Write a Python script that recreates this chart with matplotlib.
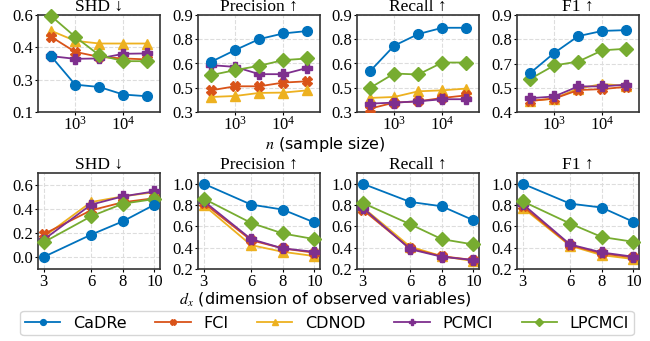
import matplotlib
matplotlib.use("Agg")
import matplotlib.pyplot as plt
from matplotlib.ticker import FixedLocator, NullLocator

plt.rcParams["font.family"] = ["Liberation Serif", "DejaVu Serif"]
plt.rcParams["mathtext.fontset"] = "stix"

METHODS = ["CaDRe", "FCI", "CDNOD", "PCMCI", "LPCMCI"]
STYLE = {
    "CaDRe":  {"color": "#0072BD", "marker": "o"},
    "FCI":    {"color": "#D95319", "marker": "X"},
    "CDNOD":  {"color": "#EDB120", "marker": "^"},
    "PCMCI":  {"color": "#7E2F8E", "marker": "P"},
    "LPCMCI": {"color": "#77AC30", "marker": "D"},
}
ZORDER = {"CDNOD": 2, "FCI": 3, "PCMCI": 4, "LPCMCI": 5, "CaDRe": 6}

# top row: sample size sweep
n_values = [316, 1000, 3162, 10000, 31623]
top_shd = {
    "CaDRe":  [0.388, 0.241, 0.229, 0.190, 0.181],
    "FCI":    [0.488, 0.410, 0.384, 0.376, 0.371],
    "CDNOD":  [0.519, 0.467, 0.453, 0.453, 0.453],
    "PCMCI":  [0.388, 0.374, 0.376, 0.400, 0.402],
    "LPCMCI": [0.595, 0.488, 0.393, 0.362, 0.362],
}
top_precision = {
    "CaDRe":  [0.610, 0.683, 0.751, 0.786, 0.801],
    "FCI":    [0.434, 0.459, 0.459, 0.482, 0.490],
    "CDNOD":  [0.393, 0.399, 0.418, 0.420, 0.434],
    "PCMCI":  [0.590, 0.579, 0.534, 0.534, 0.573],
    "LPCMCI": [0.528, 0.559, 0.586, 0.621, 0.631],
}
top_recall = {
    "CaDRe":  [0.552, 0.710, 0.782, 0.821, 0.821],
    "FCI":    [0.321, 0.358, 0.366, 0.387, 0.403],
    "CDNOD":  [0.387, 0.393, 0.428, 0.434, 0.445],
    "PCMCI":  [0.352, 0.358, 0.366, 0.379, 0.379],
    "LPCMCI": [0.449, 0.538, 0.532, 0.606, 0.606],
}
top_f1 = {
    "CaDRe":  [0.600, 0.704, 0.791, 0.818, 0.822],
    "FCI":    [0.457, 0.469, 0.513, 0.518, 0.530],
    "CDNOD":  [0.457, 0.469, 0.521, 0.544, 0.535],
    "PCMCI":  [0.471, 0.480, 0.532, 0.532, 0.541],
    "LPCMCI": [0.570, 0.640, 0.660, 0.718, 0.726],
}

# bottom row: dimension sweep
dx_values = [3, 6, 8, 10]
bot_shd = {
    "CaDRe":  [0.000, 0.186, 0.297, 0.436],
    "FCI":    [0.190, 0.389, 0.456, 0.490],
    "CDNOD":  [0.167, 0.458, 0.505, 0.540],
    "PCMCI":  [0.144, 0.436, 0.505, 0.547],
    "LPCMCI": [0.122, 0.339, 0.444, 0.483],
}
bot_precision = {
    "CaDRe":  [1.000, 0.804, 0.757, 0.636],
    "FCI":    [0.820, 0.470, 0.393, 0.352],
    "CDNOD":  [0.800, 0.424, 0.361, 0.321],
    "PCMCI":  [0.838, 0.480, 0.393, 0.361],
    "LPCMCI": [0.860, 0.632, 0.533, 0.480],
}
bot_recall = {
    "CaDRe":  [1.000, 0.829, 0.788, 0.657],
    "FCI":    [0.757, 0.393, 0.320, 0.284],
    "CDNOD":  [0.780, 0.410, 0.320, 0.274],
    "PCMCI":  [0.776, 0.386, 0.315, 0.284],
    "LPCMCI": [0.820, 0.620, 0.480, 0.430],
}
bot_f1 = {
    "CaDRe":  [1.000, 0.813, 0.776, 0.642],
    "FCI":    [0.790, 0.424, 0.346, 0.308],
    "CDNOD":  [0.776, 0.418, 0.330, 0.293],
    "PCMCI":  [0.810, 0.430, 0.355, 0.315],
    "LPCMCI": [0.835, 0.626, 0.500, 0.455],
}

TITLES = ["SHD \u2193", "Precision \u2191", "Recall \u2191", "F1 \u2191"]

# the original labels equally spaced ticks with one decimal
top_ylims = [(0.1, 0.6), (0.3, 0.9), (0.3, 0.9), (0.4, 0.9)]
top_yticklabels = [
    ["0.1", "0.3", "0.4", "0.6"],
    ["0.3", "0.5", "0.6", "0.8", "0.9"],
    ["0.3", "0.5", "0.6", "0.8", "0.9"],
    ["0.4", "0.5", "0.7", "0.8", "0.9"],
]
bot_ylims = [(-0.1, 0.7), (0.2, 1.1), (0.2, 1.1), (0.2, 1.1)]
bot_yticks = [[0.0, 0.2, 0.4, 0.6], [0.2, 0.4, 0.6, 0.8, 1.0],
              [0.2, 0.4, 0.6, 0.8, 1.0], [0.2, 0.4, 0.6, 0.8, 1.0]]


def _draw(ax, xs, data, ms):
    for m in METHODS:
        st = STYLE[m]
        ax.plot(xs, data[m], color=st["color"], marker=st["marker"],
                markersize=ms, linewidth=1.3, label=m, zorder=ZORDER[m],
                clip_on=False if m == "LPCMCI" else True)
    ax.grid(True, linestyle="--", color="#dddddd", linewidth=0.8)
    ax.set_axisbelow(True)
    for spine in ax.spines.values():
        spine.set_linewidth(1.2)
        spine.set_color("#333333")
    ax.tick_params(labelsize=12, length=2, width=0.8, pad=1.5)


fig = plt.figure(figsize=(6.5, 3.41), dpi=100)
lefts = [38, 198, 357, 517]
axw = 122
top_sets = [top_shd, top_precision, top_recall, top_f1]
bot_sets = [bot_shd, bot_precision, bot_recall, bot_f1]

for i in range(4):
    ax = fig.add_axes([lefts[i] / 650, 1 - 112 / 341, axw / 650, 97 / 341])
    _draw(ax, n_values, top_sets[i], 7)
    ax.set_xscale("log")
    ax.set_xlim(10 ** 2.23, 10 ** 4.76)
    ax.xaxis.set_major_locator(FixedLocator([1000, 10000]))
    ax.xaxis.set_minor_locator(NullLocator())
    ax.tick_params(axis="x", pad=1)
    lo, hi = top_ylims[i]
    labels = top_yticklabels[i]
    ticks = [lo + k * (hi - lo) / (len(labels) - 1) for k in range(len(labels))]
    ax.set_ylim(lo, hi)
    ax.set_yticks(ticks)
    ax.set_yticklabels(labels)
    ax.set_title(TITLES[i], fontsize=12.5, pad=2)

for i in range(4):
    ax = fig.add_axes([lefts[i] / 650, 1 - 269 / 341, axw / 650, 96 / 341])
    _draw(ax, dx_values, bot_sets[i], 7)
    ax.set_xticks(dx_values)
    ax.set_ylim(*bot_ylims[i])
    ax.set_yticks(bot_yticks[i])
    ax.set_title(TITLES[i], fontsize=12.5, pad=2)
    if i == 0:
        handles, labels = ax.get_legend_handles_labels()

fig.text(0.5, 1 - 144 / 341, r"$n$ (sample size)", ha="center", va="center",
         fontsize=11.5, family="DejaVu Sans")
fig.text(0.5, 1 - 299 / 341, r"$d_x$ (dimension of observed variables)",
         ha="center", va="center", fontsize=11.5, family="DejaVu Sans")

fig.legend(handles, labels, loc="center", bbox_to_anchor=(327 / 650, 1 - 323 / 341),
           ncol=5, prop={"family": "DejaVu Sans", "size": 11.5}, markerscale=0.6,
           handlelength=2.2, columnspacing=1.8, frameon=True, fancybox=True,
           borderpad=0.3)

fig.savefig("out.png", dpi=100)
